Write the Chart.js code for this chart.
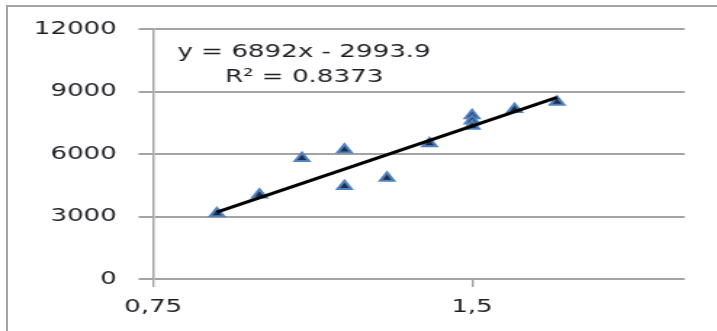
<!DOCTYPE html>
<html>
<head>
<meta charset="utf-8">
<script src="https://cdn.jsdelivr.net/npm/chart.js@4.4.1/dist/chart.umd.min.js"></script>
<style>
  html, body { margin: 0; padding: 0; background: #fff; overflow: hidden; }
  #frame {
    position: absolute; left: 6px; top: 5px; width: 740px; height: 360px;
    border-top: 2px solid #a3a3a3; border-left: 2px solid #a3a3a3;
  }
  /* the plot is laid out narrow and widened horizontally */
  #stage {
    position: absolute; left: 0; top: 0; width: 494px; height: 331px;
    transform: scaleX(1.4514); transform-origin: 0 0;
  }
</style>
</head>
<body>
<div id="frame"></div>
<div id="stage"><canvas id="c"></canvas></div>
<script>
// measured points
const xValues = [0.9, 1.0, 1.1, 1.2, 1.2, 1.3, 1.4, 1.5, 1.5, 1.5, 1.6, 1.7];
const yValues = [3150, 4050, 5800, 6200, 4450, 4850, 6500, 7850, 7600, 7350, 8150, 8500];

// axis ticks
const xTicks = [0.75, 1.5];
const yTicks = [0, 3000, 6000, 9000, 12000];

// linear trend: y = slope * x + intercept
const trendSlope = 6892;
const trendIntercept = -2993.9;
const trendR2 = 0.8373;

const points = xValues.map((x, i) => ({ x: x, y: yValues[i] }));
const xMin = Math.min(...xValues);
const xMax = Math.max(...xValues);
const trendPoints = [xMin, xMax].map(x => ({ x: x, y: trendSlope * x + trendIntercept }));

const eqText = 'y = ' + trendSlope + 'x - ' + Math.abs(trendIntercept);
const r2Text = 'R\u00B2 = ' + trendR2;

const FONT = { family: '"DejaVu Sans", Verdana, sans-serif', size: 18 };
const TEXT = '#1e1e24';
const GRID = '#a3a3a3';

const trendLabel = {
  id: 'trendLabel',
  afterDatasetsDraw(chart) {
    const { ctx, chartArea: a } = chart;
    ctx.save();
    ctx.font = FONT.size + 'px ' + FONT.family;
    ctx.fillStyle = TEXT;
    ctx.textAlign = 'center';
    ctx.textBaseline = 'middle';
    const cx = a.left + 104;
    ctx.fillText(eqText, cx, a.top + 23);
    ctx.fillText(r2Text, cx, a.top + 48);
    ctx.restore();
  }
};

new Chart(document.getElementById('c'), {
  type: 'scatter',
  data: {
    datasets: [
      {
        label: 'Linear',
        type: 'line',
        data: trendPoints,
        borderColor: '#000',
        borderWidth: 3,
        pointRadius: 0,
        fill: false,
        order: 0
      },
      {
        label: 'Series',
        data: points,
        pointStyle: 'triangle',
        pointRadius: 5.5,
        backgroundColor: '#1f2f4d',
        borderColor: '#4f81bd',
        borderWidth: 2,
        order: 1
      }
    ]
  },
  options: {
    responsive: true,
    maintainAspectRatio: false,
    animation: false,
    layout: { padding: { top: 29, right: 22.3, bottom: 0, left: 0 } },
    plugins: { legend: { display: false }, tooltip: { enabled: false } },
    scales: {
      x: {
        type: 'linear',
        min: 0.75,
        max: 2.0,
        afterBuildTicks: s => { s.ticks = xTicks.map(v => ({ value: v })); },
        afterFit: s => { s.height = 52; },
        ticks: {
          font: FONT, color: TEXT, padding: 10,
          maxRotation: 0, autoSkip: false,
          callback: v => String(v).replace('.', ',')
        },
        grid: { drawOnChartArea: false, drawTicks: true, tickLength: 8, color: GRID, lineWidth: 1.4 },
        border: { display: false }
      },
      y: {
        min: 0,
        max: 12000,
        afterBuildTicks: s => { s.ticks = yTicks.map(v => ({ value: v })); },
        afterFit: s => { s.width = 105.5; },
        ticks: { font: FONT, color: TEXT, padding: 15, callback: v => String(v) },
        grid: { color: GRID, lineWidth: 2, tickLength: 10 },
        border: { display: true, color: GRID, width: 1.5 }
      }
    }
  },
  plugins: [trendLabel]
});
</script>
</body>
</html>
